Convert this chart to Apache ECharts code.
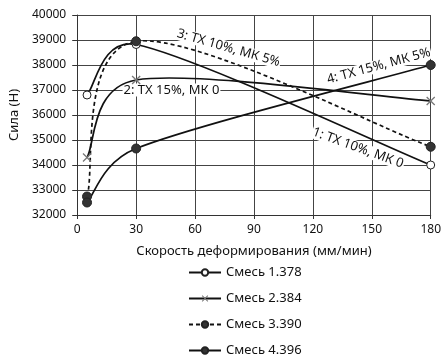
<!DOCTYPE html>
<html>
<head>
<meta charset="utf-8">
<script src="https://cdn.jsdelivr.net/npm/echarts@6/dist/echarts.min.js"></script>
<style>
  html, body { margin: 0; padding: 0; background: #fff; }
  #chart { width: 444px; height: 359px; }
</style>
</head>
<body>
<div id="chart"></div>
<script>
// скорость деформирования, мм/мин
const speeds = [5, 30, 180]
const mix1 = [36800, 38820, 34000]
const mix2 = [34300, 37400, 36560]
const mix3 = [32740, 38950, 34730]
const mix4 = [32500, 34660, 38000]
const seriesNames = ['Смесь 1.378', 'Смесь 2.384', 'Смесь 3.390', 'Смесь 4.396']
const xTicks = [0, 30, 60, 90, 120, 150, 180]
const yTicks = [32000, 33000, 34000, 35000, 36000, 37000, 38000, 39000, 40000]

// подписи кривых: [текст, x, y, угол]
const notes = [
  ['3: ТХ 10%, МК 5%', 77, 38680, -16],
  ['2: ТХ 15%, МК 0', 48, 37000, 0],
  ['4: ТХ 15%, МК 5%', 153.5, 37960, 15],
  ['1: ТХ 10%, МК 0', 143, 34680, -20]
]

const FONT = 'Noto Sans'
const LINE_W = 1.7
const crossPath = 'path://M0,1L1,0L5,4L9,0L10,1L6,5L10,9L9,10L5,6L1,10L0,9L4,5Z'

function pairs (ys) {
  return speeds.map(function (x, i) { return [x, ys[i]] })
}

function dist (a, b) {
  return Math.sqrt((a[0] - b[0]) * (a[0] - b[0]) + (a[1] - b[1]) * (a[1] - b[1]))
}

// сглаживание как в Excel: касательная/6, но не дальше половины отрезка
function curveRenderer (ys, dashed) {
  return function (params, api) {
    let pts = speeds.map(function (x, i) { return api.coord([x, ys[i]]) })
    let n = pts.length
    let children = []
    for (let i = 0; i < n - 1; i++) {
      let p0 = pts[Math.max(i - 1, 0)]
      let p1 = pts[i]
      let p2 = pts[i + 1]
      let p3 = pts[Math.min(i + 2, n - 1)]
      let d12 = dist(p1, p2)
      let d02 = dist(p0, p2)
      let d13 = dist(p1, p3)
      let f = d02 > 0 ? Math.min(1 / 6, d12 / (2 * d02)) : 0
      let g = d13 > 0 ? Math.min(1 / 6, d12 / (2 * d13)) : 0
      children.push({
        type: 'bezierCurve',
        shape: {
          x1: p1[0], y1: p1[1],
          x2: p2[0], y2: p2[1],
          cpx1: p1[0] + (p2[0] - p0[0]) * f,
          cpy1: p1[1] + (p2[1] - p0[1]) * f,
          cpx2: p2[0] - (p3[0] - p1[0]) * g,
          cpy2: p2[1] - (p3[1] - p1[1]) * g
        },
        style: {
          stroke: '#111',
          fill: null,
          lineWidth: LINE_W,
          lineDash: dashed ? [4, 3] : null
        }
      })
    }
    return { type: 'group', children: children }
  }
}

function curveSeries (ys, dashed, idx) {
  return {
    name: 'curve' + idx,
    type: 'custom',
    silent: true,
    renderItem: curveRenderer(ys, dashed),
    data: [[speeds[0], ys[0]]]
  }
}

function pointSeries (name, ys, symbol, size, itemStyle) {
  return {
    name: name,
    type: 'line',
    data: pairs(ys),
    symbol: symbol,
    symbolSize: size,
    itemStyle: itemStyle,
    lineStyle: { color: '#111', width: LINE_W, opacity: 0 },
    emphasis: { disabled: true }
  }
}

let chart = echarts.init(document.getElementById('chart'))

let option = {
  backgroundColor: '#fff',
  animation: false,
  textStyle: { fontFamily: FONT },
  grid: { left: 74, right: 10, top: 15, bottom: 144 },
  legend: {
    orient: 'vertical',
    left: 188,
    top: 265,
    padding: 0,
    itemWidth: 32,
    itemHeight: 8,
    itemGap: 11,
    textStyle: { color: '#111', fontSize: 13, fontFamily: FONT, lineHeight: 15 },
    data: [
      { name: seriesNames[0], lineStyle: { opacity: 1 } },
      { name: seriesNames[1], lineStyle: { opacity: 1 } },
      { name: seriesNames[2], lineStyle: { opacity: 1, type: [4, 3] } },
      { name: seriesNames[3], lineStyle: { opacity: 1 } }
    ]
  },
  xAxis: {
    type: 'value',
    min: xTicks[0],
    max: xTicks[xTicks.length - 1],
    interval: 30,
    name: 'Скорость деформирования (мм/мин)',
    nameLocation: 'middle',
    nameGap: 30,
    nameTextStyle: { color: '#111', fontSize: 13, fontFamily: FONT },
    axisLine: { show: true, lineStyle: { color: '#333', width: 1 } },
    axisTick: { show: true, length: 4, lineStyle: { color: '#333' } },
    axisLabel: { color: '#111', fontSize: 12, margin: 9 },
    splitLine: { show: true, lineStyle: { color: '#444', width: 1 } }
  },
  yAxis: {
    type: 'value',
    min: yTicks[0],
    max: yTicks[yTicks.length - 1],
    interval: 1000,
    name: 'Сила (Н)',
    nameLocation: 'middle',
    nameGap: 56,
    nameTextStyle: { color: '#111', fontSize: 13, fontFamily: FONT },
    axisLine: { show: true, lineStyle: { color: '#333', width: 1 } },
    axisTick: { show: true, length: 5, lineStyle: { color: '#333' } },
    axisLabel: {
      color: '#111',
      fontSize: 12,
      margin: 11,
      formatter: function (v) { return String(v) }
    },
    splitLine: { show: true, lineStyle: { color: '#444', width: 1 } }
  },
  series: [
    curveSeries(mix1, false, 1),
    curveSeries(mix2, false, 2),
    curveSeries(mix3, true, 3),
    curveSeries(mix4, false, 4),
    pointSeries(seriesNames[0], mix1, 'circle', 8,
      { color: '#fff', borderColor: '#222', borderWidth: 1 }),
    pointSeries(seriesNames[1], mix2, crossPath, 9, { color: '#777' }),
    pointSeries(seriesNames[2], mix3, 'circle', 9,
      { color: '#333', borderColor: '#222', borderWidth: 1 }),
    pointSeries(seriesNames[3], mix4, 'circle', 9,
      { color: '#333', borderColor: '#222', borderWidth: 1 })
  ]
}

chart.setOption(option)

// подписи ставим по координатам данных
let labels = notes.map(function (n) {
  let p = chart.convertToPixel({ gridIndex: 0 }, [n[1], n[2]])
  return {
    type: 'text',
    x: p[0],
    y: p[1],
    rotation: n[3] * Math.PI / 180,
    z: 1,
    style: {
      text: n[0],
      fill: '#111',
      font: '13px "' + FONT + '"',
      align: 'center',
      verticalAlign: 'middle',
      backgroundColor: '#fff',
      padding: [0, 1]
    }
  }
})
chart.setOption({ graphic: labels })
</script>
</body>
</html>
